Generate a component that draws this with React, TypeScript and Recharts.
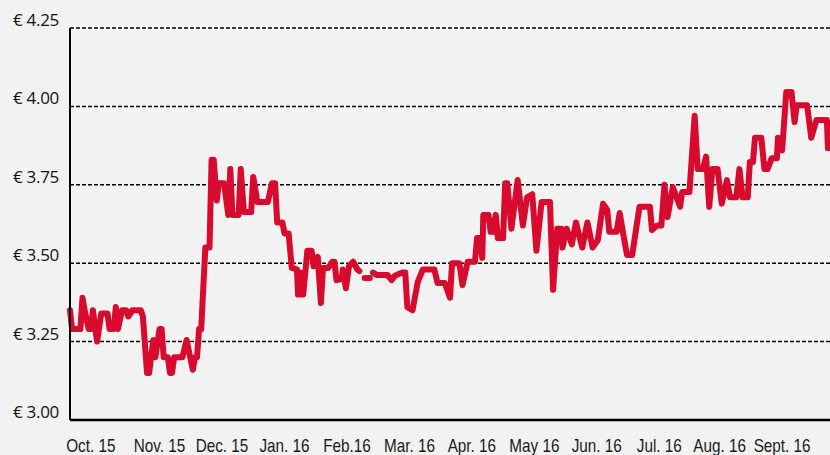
import React from 'react';
import { LineChart, Line, XAxis, YAxis, CartesianGrid } from 'recharts';

// days since 1 Oct 2015
const days = [
  0, 1, 5, 6, 7, 9, 10, 11, 13, 15, 18, 19, 21, 22, 23, 25, 27, 28, 30, 34, 35, 37, 38, 40, 41, 43, 44, 45,
  47, 48, 49, 50, 54, 56, 59, 60, 61, 62, 63, 65, 67, 68, 69, 70.5, 71.5, 74, 76, 77, 78, 81, 82, 83.5, 87,
  88, 90, 95, 97, 98.5, 99.5, 102, 103, 105, 106.5, 109, 109.5, 110.5, 111, 112, 114, 116, 117, 119, 120.5,
  121.5, 124, 126, 127, 128, 130.5, 131, 132.5, 134, 136, 138, 139, 140, 141.5, 144, 145, 145.5, 147.5,
  152.5, 154.5, 156, 159.5, 161, 162, 164.5, 167, 169.5, 175, 176.5, 180, 182.5, 183.5, 187, 188.5, 191,
  194.5, 195.5, 197, 198, 198.5, 201, 202, 203, 204.5, 205.5, 208, 209, 210, 212, 215, 217.5, 219.5, 222,
  224, 226.5, 230.5, 232, 234, 236, 236.5, 238.5, 241, 243, 246, 248.5, 251, 253.5, 256, 258, 259, 262.5,
  264, 265.5, 267.5, 270, 271, 273.5, 278.5, 279.5, 282, 284, 285.5, 287, 289.5, 293, 294, 297.5, 300,
  301.5, 304, 305.5, 307, 308.5, 311, 313, 315.5, 317, 320, 321.5, 323, 325.5, 326.5, 328, 329, 332, 333.5,
  335, 337, 339.5, 340, 342, 344, 346.5, 348, 349, 354, 356, 358.5, 363.5, 364, 365,
];

const prices: (number | null)[] = [
  3.35, 3.29, 3.29, 3.39, 3.35, 3.29, 3.29, 3.35, 3.25, 3.34, 3.34, 3.29, 3.29, 3.36, 3.29, 3.35, 3.35, 3.33,
  3.35, 3.35, 3.33, 3.15, 3.15, 3.255, 3.2, 3.29, 3.29, 3.2, 3.2, 3.15, 3.15, 3.2, 3.2, 3.255, 3.16, 3.2, 3.2,
  3.29, 3.29, 3.55, 3.55, 3.83, 3.83, 3.7, 3.755, 3.755, 3.654, 3.8, 3.654, 3.654, 3.8, 3.663, 3.663, 3.775,
  3.695, 3.695, 3.755, 3.755, 3.63, 3.63, 3.595, 3.595, 3.485, 3.48, 3.4, 3.47, 3.4, 3.4, 3.54, 3.54, 3.49,
  3.52, 3.373, 3.485, 3.485, 3.505, 3.505, 3.446, 3.45, 3.48, 3.42, 3.49, 3.505, 3.48, 3.475, null, 3.453,
  3.453, null, 3.47, 3.462, 3.462, 3.446, 3.46, 3.47, 3.47, 3.36, 3.35, 3.44, 3.48, 3.48, 3.437, 3.437, 3.39,
  3.5, 3.5, 3.43, 3.505, 3.505, 3.58, 3.58, 3.517, 3.654, 3.654, 3.6, 3.6, 3.654, 3.58, 3.58, 3.755, 3.755,
  3.61, 3.765, 3.62, 3.71, 3.72, 3.54, 3.695, 3.695, 3.415, 3.61, 3.61, 3.55, 3.61, 3.56, 3.63, 3.55, 3.63,
  3.55, 3.574, 3.69, 3.67, 3.6, 3.6, 3.66, 3.6, 3.526, 3.526, 3.57, 3.68, 3.68, 3.606, 3.62, 3.62, 3.75,
  3.647, 3.743, 3.68, 3.727, 3.727, 3.97, 3.8, 3.8, 3.84, 3.68, 3.8, 3.8, 3.69, 3.765, 3.71, 3.71, 3.8, 3.71,
  3.71, 3.823, 3.823, 3.9, 3.9, 3.8, 3.8, 3.835, 3.835, 3.9, 3.86, 4.046, 4.046, 3.95, 4.004, 4.004, 3.9,
  3.957, 3.957, 3.867, 3.867,
];

const monthTicks = [10, 43, 73, 103, 133, 163, 193, 223, 253, 283, 312, 342];
const monthLabels = [
  'Oct. 15', 'Nov. 15', 'Dec. 15', 'Jan. 16', 'Feb.16', 'Mar. 16',
  'Apr. 16', 'May 16', 'Jun. 16', 'Jul. 16', 'Aug. 16', 'Sept. 16',
];
const priceTicks = [3, 3.25, 3.5, 3.75, 4, 4.25];

const data = days.map((day, i) => ({ day, price: prices[i] }));

// condensed look: squeeze a regular sans horizontally
const MonthTick = ({ x, y, payload }: any) => {
  const idx = monthTicks.indexOf(payload.value);
  return (
    <g transform={`translate(${x},${y + 24}) scale(0.85,1)`}>
      <text
        x={0}
        y={0}
        textAnchor="middle"
        fill="#1a1a1a"
        style={{ fontSize: 18, fontFamily: "'Liberation Sans', Arial, sans-serif" }}
      >
        {monthLabels[idx]}
      </text>
    </g>
  );
};

const PriceTick = ({ x, y, payload }: any) => (
  <text
    x={x}
    y={y}
    dy={-2}
    textAnchor="end"
    fill="#111"
    style={{ fontSize: 17, fontFamily: "'Open Sans', sans-serif", letterSpacing: -0.3 }}
  >
    {`€ ${payload.value.toFixed(2)}`}
  </text>
);

export default function App() {
  return (
    <div style={{ position: 'absolute', left: 0, top: 0, width: 830, height: 455, background: '#f2f2f2' }}>
      <LineChart width={830} height={455} data={data} margin={{ top: 28, right: 0, bottom: 0, left: 0 }}>
        <CartesianGrid vertical={false} stroke="#000" strokeWidth={1.5} strokeDasharray="4 2" />
        <XAxis
          dataKey="day"
          type="number"
          domain={[0, 365]}
          ticks={monthTicks}
          tick={<MonthTick />}
          tickLine={false}
          axisLine={{ stroke: '#000', strokeWidth: 2.5 }}
          height={35}
        />
        <YAxis
          type="number"
          domain={[3, 4.25]}
          ticks={priceTicks}
          tick={<PriceTick />}
          tickLine={false}
          tickMargin={5}
          axisLine={{ stroke: '#000', strokeWidth: 2 }}
          width={70}
        />
        <Line
          type="linear"
          dataKey="price"
          stroke="#d80a2d"
          strokeWidth={6}
          strokeLinejoin="round"
          strokeLinecap="round"
          dot={false}
          isAnimationActive={false}
        />
      </LineChart>
    </div>
  );
}
